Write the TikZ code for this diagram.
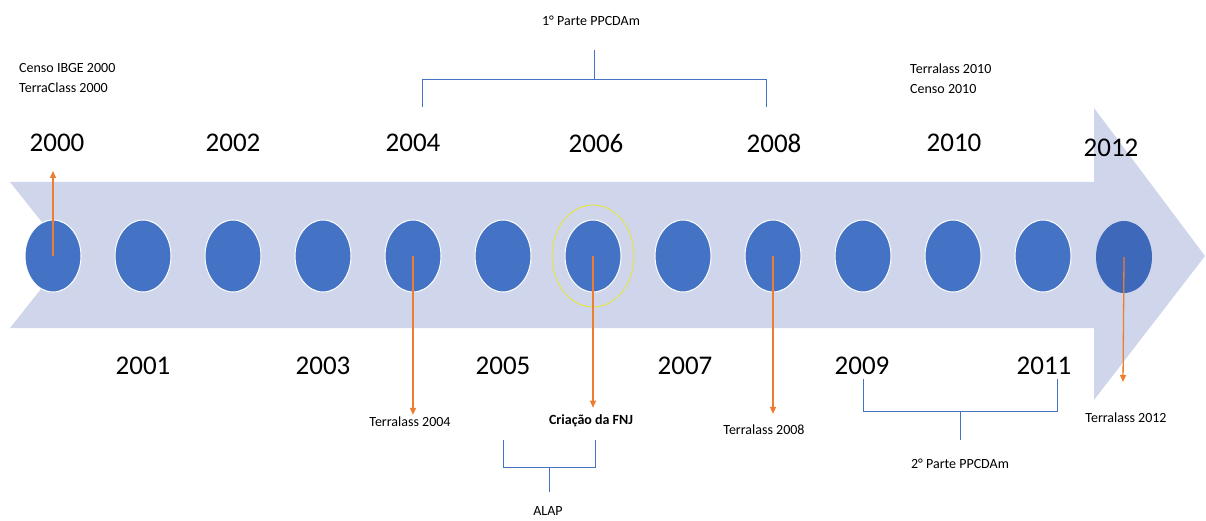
\documentclass[tikz,border=0pt]{standalone}
\usepackage{fontspec}
\setmainfont{Carlito}
\usetikzlibrary{arrows.meta,shapes.geometric}

\definecolor{bandblue}{RGB}{207,213,234}
\definecolor{dotblue}{RGB}{68,114,196}
\definecolor{lastblue}{RGB}{62,104,186}
\definecolor{markorange}{RGB}{237,125,49}
\definecolor{ringyellow}{RGB}{232,232,40}

\tikzset{
  dot/.style={ellipse, fill=dotblue, draw=white, line width=1pt, inner sep=0pt,
    minimum width=56pt, minimum height=72pt},
  year/.style={font=\fontsize{27}{30}\selectfont, inner sep=0pt},
  note/.style={font=\fontsize{14}{20}\selectfont, align=left, inner sep=2pt},
  pointer/.style={draw=markorange, line width=1.3pt, -{Triangle[length=7pt,width=6pt]}},
  brace/.style={draw=dotblue, line width=0.8pt}
}

\begin{document}
\begin{tikzpicture}[x=1pt,y=-1pt]
    \useasboundingbox (0,0) rectangle (1206,521);
    % the band
    \fill[bandblue] (10,182) -- (1094,182) -- (1094,108) -- (1205,256)
        -- (1094,400) -- (1094,328) -- (10,328) -- (68,255) -- cycle;
    % the years
    \foreach \yr [count=\i from 0] in {2000,...,2011}
        \node[dot] (c\yr) at (53+90*\i,256) {};
    \node[dot, fill=lastblue, draw=none] (c2012) at (1124,257) {};
    \node[ellipse, draw=ringyellow, line width=0.8pt, minimum width=82pt,
        minimum height=102pt] (ring) at (c2006) {};

    \node[year] (y2000) at (57,143) {2000};
    \node[year] (y2002) at (233,143) {2002};
    \node[year] (y2004) at (413,143) {2004};
    \node[year] (y2006) at (596,143) {2006};
    \node[year] (y2008) at (774,143) {2008};
    \node[year] (y2010) at (954,143) {2010};
    \node[year] (y2012) at (1111,148) {2012};
    \node[year] (y2001) at (143,366) {2001};
    \node[year] (y2003) at (323,366) {2003};
    \node[year] (y2005) at (503,366) {2005};
    \node[year] (y2007) at (685,366) {2007};
    \node[year] (y2009) at (862,366) {2009};
    \node[year] (y2011) at (1044,366) {2011};

    % events
    \node[note, anchor=west] (n2000) at (17,78) {Censo IBGE 2000\\TerraClass 2000};
    \node[note, anchor=west] (n2010) at (908,79) {Terralass 2010\\Censo 2010};
    \node[note] (t2004) at (410,422) {Terralass 2004};
    \node[note] (t2006) at (591,421) {\bfseries Criação da FNJ};
    \node[note] (t2008) at (764,430) {Terralass 2008};
    \node[note] (t2012) at (1126,418) {Terralass 2012};

    \coordinate (e2000) at (53,171);
    \coordinate (e2012) at (1123,382);
    \draw[pointer] (c2000.center) -- (e2000);
    \draw[pointer] (c2004.center) -- (t2004.north -| c2004);
    \draw[pointer, shorten >=5pt] (c2006.center) -- (t2006.north -| c2006);
    \draw[pointer, shorten >=9pt] (c2008.center) -- (t2008.north -| c2008);
    \draw[pointer] (c2012.center) -- (e2012);

    % brackets
    \node[note] (part1) at (591,21) {1° Parte PPCDAm};
    \coordinate (k1) at (594,79);
    \draw[brace] (422,107) -- (422,79) -- (766,79) -- (766,107);
    \draw[brace] (k1) -- (594,50);

    \node[note] (part2) at (960,464) {2° Parte PPCDAm};
    \coordinate (k2) at (960,411);
    \draw[brace] (863,379) -- (863,411) -- (1057,411) -- (1057,379);
    \draw[brace] (k2) -- (960,440);

    \node[note] (alap) at (548,511) {ALAP};
    \coordinate (k3) at (549,467);
    \draw[brace] (503,440) -- (503,467) -- (595,467) -- (595,440);
    \draw[brace] (k3) -- (549,492);
\end{tikzpicture}
\end{document}
